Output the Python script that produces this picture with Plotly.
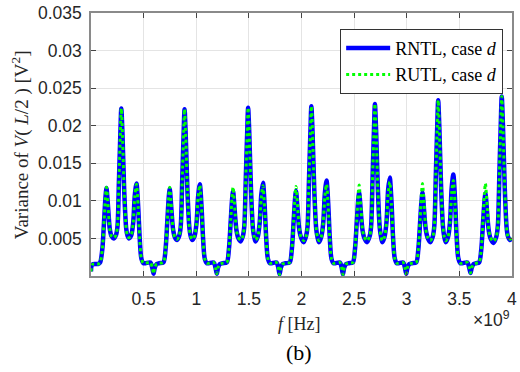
import plotly.graph_objects as go

# frequency in units of 1e9 Hz (shared by both series)
f_ghz = [
    0.000, 0.010, 0.040, 0.070,
    0.087, 0.107, 0.125, 0.137, 0.147, 0.157, 0.167, 0.179, 0.195, 0.217, 0.236, 0.251, 0.266, 0.279, 0.288,
    0.300, 0.316, 0.334, 0.346, 0.360, 0.382, 0.401, 0.416, 0.432, 0.448, 0.463, 0.479, 0.499,
    0.564, 0.582, 0.594, 0.606, 0.624, 0.649,
    0.688, 0.708, 0.726, 0.738, 0.748, 0.758, 0.768, 0.780, 0.796, 0.818, 0.837, 0.852, 0.867, 0.880, 0.889,
    0.901, 0.917, 0.935, 0.947, 0.961, 0.984, 1.003, 1.018, 1.034, 1.050, 1.065, 1.081, 1.101,
    1.165, 1.183, 1.195, 1.207, 1.225, 1.250,
    1.290, 1.310, 1.328, 1.340, 1.350, 1.360, 1.370, 1.382, 1.398, 1.421, 1.441, 1.456, 1.471, 1.484, 1.493,
    1.505, 1.521, 1.539, 1.551, 1.563, 1.584, 1.603, 1.618, 1.634, 1.650, 1.665, 1.681, 1.701,
    1.762, 1.780, 1.792, 1.804, 1.822, 1.847,
    1.888, 1.908, 1.926, 1.938, 1.948, 1.958, 1.968, 1.980, 1.996, 2.021, 2.042, 2.057, 2.072, 2.085, 2.094,
    2.106, 2.122, 2.140, 2.152, 2.166, 2.188, 2.207, 2.222, 2.238, 2.254, 2.269, 2.285, 2.305,
    2.364, 2.382, 2.394, 2.406, 2.424, 2.449,
    2.488, 2.508, 2.526, 2.538, 2.548, 2.558, 2.568, 2.580, 2.596, 2.623, 2.646, 2.661, 2.676, 2.689, 2.698,
    2.710, 2.726, 2.744, 2.756, 2.768, 2.789, 2.808, 2.823, 2.839, 2.855, 2.870, 2.886, 2.906,
    2.965, 2.983, 2.995, 3.007, 3.025, 3.050,
    3.090, 3.110, 3.128, 3.140, 3.150, 3.160, 3.170, 3.182, 3.198, 3.224, 3.247, 3.262, 3.277, 3.290, 3.299,
    3.311, 3.327, 3.345, 3.357, 3.371, 3.393, 3.412, 3.427, 3.443, 3.459, 3.474, 3.490, 3.510,
    3.576, 3.594, 3.606, 3.618, 3.636, 3.661,
    3.688, 3.708, 3.726, 3.738, 3.748, 3.758, 3.768, 3.780, 3.796, 3.825, 3.851, 3.866, 3.881, 3.894, 3.903,
    3.915, 3.931, 3.949, 3.961, 3.980, 4.000,
]

var_rntl = [
    0.0006, 0.0015, 0.0016, 0.0016,
    0.0018, 0.0035, 0.0075, 0.0104, 0.0117, 0.0102, 0.0082, 0.0062, 0.0053, 0.0050, 0.0054, 0.0065, 0.0129, 0.0190, 0.0223,
    0.0185, 0.0112, 0.0064, 0.0054, 0.0050, 0.0054, 0.0071, 0.0107, 0.0123, 0.0093, 0.0050, 0.0023, 0.0017,
    0.0018, 0.0011, 0.0003, 0.0011, 0.0016, 0.0017,
    0.0018, 0.0035, 0.0075, 0.0103, 0.0116, 0.0101, 0.0081, 0.0062, 0.0052, 0.0048, 0.0053, 0.0065, 0.0129, 0.0189, 0.0222,
    0.0184, 0.0111, 0.0064, 0.0053, 0.0048, 0.0053, 0.0071, 0.0106, 0.0122, 0.0093, 0.0050, 0.0023, 0.0017,
    0.0018, 0.0011, 0.0003, 0.0011, 0.0016, 0.0017,
    0.0018, 0.0035, 0.0074, 0.0101, 0.0113, 0.0098, 0.0079, 0.0061, 0.0051, 0.0046, 0.0052, 0.0065, 0.0130, 0.0190, 0.0224,
    0.0186, 0.0112, 0.0063, 0.0052, 0.0046, 0.0052, 0.0071, 0.0108, 0.0124, 0.0094, 0.0050, 0.0023, 0.0017,
    0.0018, 0.0011, 0.0002, 0.0011, 0.0016, 0.0017,
    0.0018, 0.0035, 0.0074, 0.0101, 0.0113, 0.0098, 0.0079, 0.0061, 0.0051, 0.0045, 0.0052, 0.0065, 0.0131, 0.0192, 0.0226,
    0.0188, 0.0113, 0.0063, 0.0052, 0.0045, 0.0052, 0.0071, 0.0110, 0.0127, 0.0097, 0.0051, 0.0023, 0.0017,
    0.0018, 0.0011, 0.0002, 0.0011, 0.0016, 0.0017,
    0.0018, 0.0035, 0.0073, 0.0099, 0.0111, 0.0097, 0.0078, 0.0061, 0.0051, 0.0045, 0.0052, 0.0065, 0.0133, 0.0195, 0.0229,
    0.0190, 0.0115, 0.0064, 0.0052, 0.0045, 0.0052, 0.0072, 0.0114, 0.0131, 0.0100, 0.0052, 0.0024, 0.0017,
    0.0018, 0.0011, 0.0003, 0.0011, 0.0016, 0.0017,
    0.0018, 0.0035, 0.0073, 0.0099, 0.0111, 0.0097, 0.0078, 0.0061, 0.0051, 0.0045, 0.0052, 0.0066, 0.0136, 0.0199, 0.0234,
    0.0194, 0.0117, 0.0065, 0.0052, 0.0045, 0.0052, 0.0073, 0.0117, 0.0135, 0.0103, 0.0053, 0.0024, 0.0017,
    0.0018, 0.0011, 0.0004, 0.0011, 0.0016, 0.0017,
    0.0018, 0.0035, 0.0073, 0.0098, 0.0110, 0.0096, 0.0077, 0.0060, 0.0050, 0.0044, 0.0052, 0.0067, 0.0139, 0.0203, 0.0239,
    0.0198, 0.0120, 0.0065, 0.0053, 0.0048, 0.0050,
]

var_rutl = [
    0.0006, 0.0015, 0.0016, 0.0016,
    0.0018, 0.0035, 0.0075, 0.0105, 0.0118, 0.0103, 0.0083, 0.0062, 0.0053, 0.0051, 0.0054, 0.0065, 0.0129, 0.0190, 0.0223,
    0.0185, 0.0112, 0.0064, 0.0054, 0.0051, 0.0054, 0.0071, 0.0106, 0.0122, 0.0093, 0.0050, 0.0023, 0.0017,
    0.0018, 0.0011, 0.0003, 0.0011, 0.0016, 0.0017,
    0.0018, 0.0035, 0.0075, 0.0105, 0.0118, 0.0103, 0.0083, 0.0062, 0.0052, 0.0049, 0.0053, 0.0065, 0.0129, 0.0189, 0.0222,
    0.0184, 0.0111, 0.0064, 0.0053, 0.0049, 0.0053, 0.0071, 0.0105, 0.0121, 0.0092, 0.0050, 0.0023, 0.0017,
    0.0018, 0.0011, 0.0003, 0.0011, 0.0016, 0.0017,
    0.0018, 0.0035, 0.0075, 0.0105, 0.0118, 0.0103, 0.0083, 0.0061, 0.0052, 0.0048, 0.0052, 0.0065, 0.0130, 0.0190, 0.0224,
    0.0186, 0.0112, 0.0063, 0.0052, 0.0048, 0.0052, 0.0071, 0.0104, 0.0120, 0.0091, 0.0050, 0.0023, 0.0017,
    0.0018, 0.0011, 0.0002, 0.0011, 0.0016, 0.0017,
    0.0018, 0.0035, 0.0075, 0.0106, 0.0119, 0.0104, 0.0083, 0.0061, 0.0052, 0.0047, 0.0052, 0.0065, 0.0131, 0.0192, 0.0226,
    0.0188, 0.0113, 0.0063, 0.0052, 0.0047, 0.0052, 0.0071, 0.0106, 0.0122, 0.0093, 0.0051, 0.0023, 0.0017,
    0.0018, 0.0011, 0.0002, 0.0011, 0.0016, 0.0017,
    0.0018, 0.0035, 0.0075, 0.0108, 0.0121, 0.0105, 0.0085, 0.0062, 0.0052, 0.0047, 0.0052, 0.0065, 0.0133, 0.0195, 0.0229,
    0.0190, 0.0115, 0.0064, 0.0052, 0.0047, 0.0052, 0.0072, 0.0109, 0.0125, 0.0095, 0.0052, 0.0024, 0.0017,
    0.0018, 0.0011, 0.0003, 0.0011, 0.0016, 0.0017,
    0.0018, 0.0035, 0.0076, 0.0109, 0.0123, 0.0107, 0.0086, 0.0062, 0.0052, 0.0047, 0.0052, 0.0066, 0.0136, 0.0199, 0.0234,
    0.0194, 0.0117, 0.0065, 0.0052, 0.0047, 0.0052, 0.0073, 0.0110, 0.0127, 0.0097, 0.0053, 0.0024, 0.0017,
    0.0018, 0.0011, 0.0004, 0.0011, 0.0016, 0.0017,
    0.0018, 0.0035, 0.0076, 0.0109, 0.0123, 0.0107, 0.0086, 0.0061, 0.0051, 0.0046, 0.0052, 0.0067, 0.0139, 0.0203, 0.0239,
    0.0198, 0.0120, 0.0065, 0.0053, 0.0049, 0.0050,
]

x_ticks = [0.5, 1, 1.5, 2, 2.5, 3, 3.5, 4]
x_tick_text = ["0.5", "1", "1.5", "2", "2.5", "3", "3.5", "4"]
y_ticks = [0.005, 0.01, 0.015, 0.02, 0.025, 0.03, 0.035]
y_tick_text = ["0.005", "0.01", "0.015", "0.02", "0.025", "0.03", "0.035"]

SANS = "Liberation Sans, Arial, sans-serif"
SERIF = "Liberation Serif, Times New Roman, serif"
TXT = "#262626"

fig = go.Figure()
fig.add_trace(go.Scatter(
    x=f_ghz, y=var_rntl, mode="lines", name="RNTL, case <i>d</i>",
    line=dict(color="#0000ff", width=4.5, shape="spline", smoothing=0.8),
))
fig.add_trace(go.Scatter(
    x=f_ghz, y=var_rutl, mode="lines", name="RUTL, case <i>d</i>",
    line=dict(color="#00ff00", width=3, dash="3px,3px", shape="spline", smoothing=0.8),
))

axis_common = dict(
    showgrid=True, gridcolor="#e4e4e4", gridwidth=1,
    ticks="inside", ticklen=5, tickcolor="#444444", tickwidth=1,
    showline=True, linecolor="#8a8a8a", linewidth=1.5, mirror="ticks",
    zeroline=False, tickfont=dict(family=SANS, size=17.5, color=TXT),
    ticklabeloverflow="allow",
)

fig.update_layout(
    width=520, height=372,
    margin=dict(l=91, r=3, t=9, b=96),
    paper_bgcolor="white", plot_bgcolor="white",
    showlegend=True,
    legend=dict(
        x=0.979, y=0.94, xanchor="right", yanchor="top",
        bgcolor="white", bordercolor="#333333", borderwidth=1,
        font=dict(family=SERIF, size=18, color="black"),
        tracegroupgap=0, itemwidth=44,
    ),
    xaxis=dict(range=[0, 4.0005], tickvals=x_ticks, ticktext=x_tick_text,
               ticklabelstandoff=6, **axis_common),
    yaxis=dict(range=[0, 0.035005], tickvals=y_ticks, ticktext=y_tick_text,
               ticklabelstandoff=4, **axis_common),
    annotations=[
        dict(text="Variance of <i>V</i>( <i>L</i>/2 ) [V<sup>2</sup>]",
             xref="paper", yref="paper", x=-0.167, y=0.5,
             xanchor="center", yanchor="middle", textangle=-90, showarrow=False,
             font=dict(family=SERIF, size=19, color=TXT)),
        dict(text="<i>f</i> [Hz]", xref="paper", yref="paper", x=0.495, y=-0.1835,
             xanchor="center", yanchor="middle", showarrow=False,
             font=dict(family=SERIF, size=18, color=TXT)),
        dict(text="×10<sup>9</sup>", xref="paper", yref="paper", x=1.0, y=-0.165,
             xanchor="right", yanchor="middle", showarrow=False,
             font=dict(family=SANS, size=17.5, color=TXT)),
        dict(text="(b)", xref="paper", yref="paper", x=0.495, y=-0.292,
             xanchor="center", yanchor="middle", showarrow=False,
             font=dict(family=SERIF, size=22, color="black")),
    ],
)

fig.write_html("out.html")
